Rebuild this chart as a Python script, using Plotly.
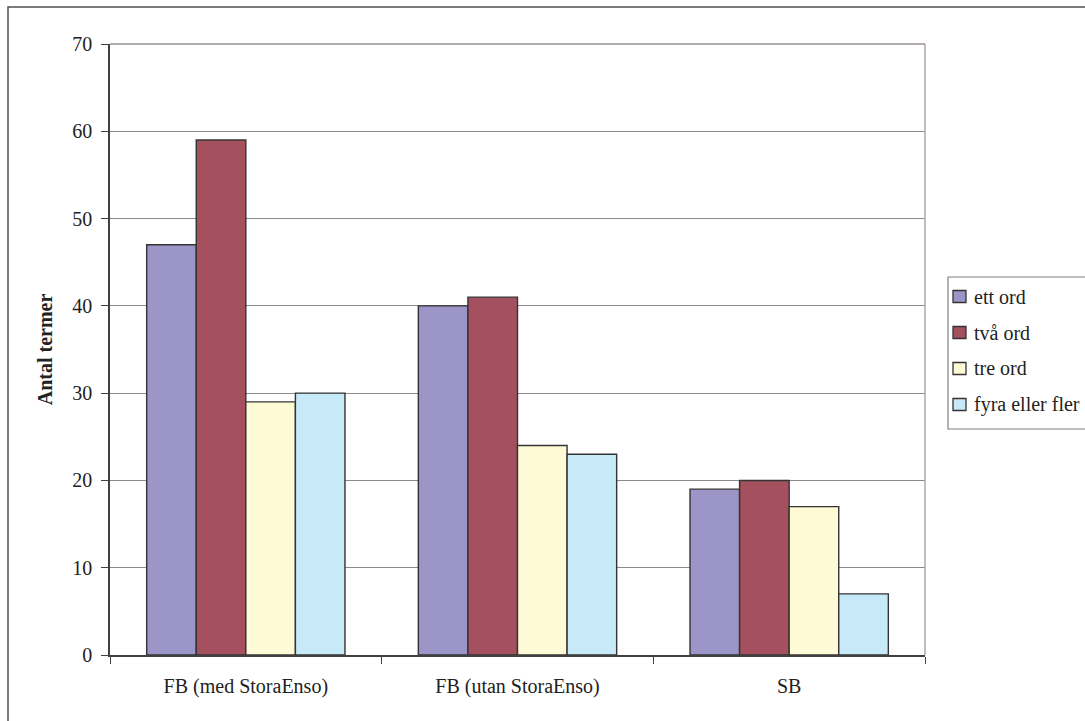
import plotly.graph_objects as go

categories = ["FB (med StoraEnso)", "FB (utan StoraEnso)", "SB"]
series_names = ["ett ord", "två ord", "tre ord", "fyra eller fler"]
ett_ord = [47, 40, 19]
tva_ord = [59, 41, 20]
tre_ord = [29, 24, 17]
fyra_eller_fler = [30, 23, 7]
colors = ["#9B95C8", "#A5505F", "#FFFAD6", "#C8E9F8"]

y_ticks = [0, 10, 20, 30, 40, 50, 60, 70]

font_family = "Liberation Serif"
text_color = "#222222"

fig = go.Figure()
for i, (name, vals) in enumerate(zip(series_names, [ett_ord, tva_ord, tre_ord, fyra_eller_fler])):
    fig.add_trace(go.Bar(
        x=categories, y=vals, name=name, showlegend=False,
        marker=dict(color=colors[i], line=dict(color="#333333", width=1.4)),
    ))

W, H = 1085, 721
L, R, T, B = 110, 160, 44, 66
pw, ph = W - L - R, H - T - B


def px_x(x):
    return (x - L) / pw


def px_y(y):
    return (H - B - y) / ph


shapes = [
    # outer chart frame
    dict(type="rect", xref="paper", yref="paper",
         x0=px_x(8), x1=px_x(1200), y0=px_y(7), y1=px_y(800),
         line=dict(color="#505050", width=1.5), fillcolor="rgba(0,0,0,0)", layer="below"),
    # plot area border (top and right)
    dict(type="line", xref="paper", yref="paper", x0=0, x1=1, y0=1, y1=1,
         line=dict(color="#9a9090", width=1.3)),
    dict(type="line", xref="paper", yref="paper", x0=1, x1=1, y0=0, y1=1,
         line=dict(color="#b0a6a6", width=1.5)),
    # legend box
    dict(type="rect", xref="paper", yref="paper",
         x0=px_x(948), x1=px_x(1200), y0=px_y(277), y1=px_y(429),
         line=dict(color="#808080", width=1.2), fillcolor="white"),
]
annotations = []

# legend entries: swatch + label
legend_rows = [296.5, 332.5, 368.5, 404.5]
for name, col, yc in zip(series_names, colors, legend_rows):
    shapes.append(dict(type="rect", xref="paper", yref="paper",
                       x0=px_x(953), x1=px_x(966), y0=px_y(yc + 6), y1=px_y(yc - 6),
                       line=dict(color="#333333", width=1.3), fillcolor=col))
    annotations.append(dict(xref="paper", yref="paper", x=px_x(972), y=px_y(yc),
                            xanchor="left", yanchor="middle", showarrow=False, text=name,
                            font=dict(family=font_family, size=20, color=text_color)))

fig.update_layout(
    width=W, height=H,
    margin=dict(l=L, r=R, t=T, b=B, autoexpand=False),
    paper_bgcolor="white", plot_bgcolor="white",
    barmode="group", bargap=0.27, bargroupgap=0,
    font=dict(family=font_family, size=20, color=text_color),
    showlegend=False,
    xaxis=dict(
        type="category", showgrid=False, showline=True, linecolor="#404040", linewidth=1.5,
        ticks="outside", tickson="boundaries", ticklen=7, tickcolor="#404040",
        tickfont=dict(family=font_family, size=20, color=text_color),
        ticklabelstandoff=12,
    ),
    yaxis=dict(
        range=[0, 70], tickvals=y_ticks, showgrid=True, gridcolor="#8a8a8a", gridwidth=1,
        showline=True, linecolor="#404040", linewidth=1.5,
        ticks="outside", ticklen=7, tickcolor="#404040",
        tickfont=dict(family=font_family, size=20, color=text_color),
        ticklabelstandoff=5,
        title=dict(text="<b>Antal termer</b>", font=dict(family=font_family, size=20, color=text_color), standoff=14),
        zeroline=False,
    ),
    shapes=shapes,
    annotations=annotations,
)

fig.write_html("out.html")
